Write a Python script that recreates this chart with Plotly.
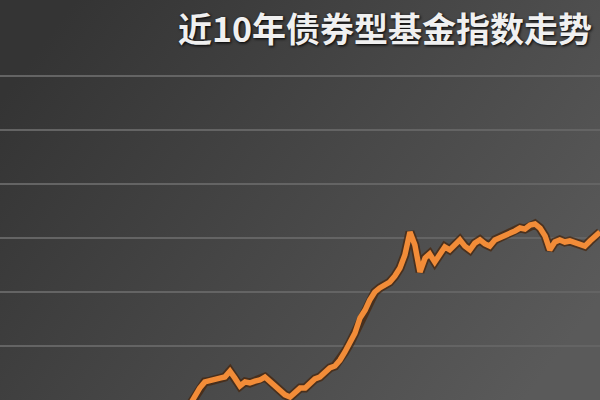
import base64
import pandas as pd
import plotly.graph_objects as go

# ---- data ----
title_text = "近10年债券型基金指数走势"
start_month = "2015-03-01"
index_values = [
    98.1, 101.5, 104.4, 106.7, 107.0, 107.4, 108.1, 108.5, 110.7, 108.1,
    105.2, 106.7, 106.3, 107.0, 107.4, 108.5, 107.0, 105.2, 103.7, 101.9,
    101.1, 103.0, 104.4, 104.4, 106.3, 107.8, 108.5, 110.4, 111.9, 112.6,
    114.8, 117.8, 121.1, 124.8, 130.4, 133.3, 137.0, 140.0, 141.5, 142.6,
    143.7, 145.9, 148.9, 153.7, 162.2, 157.4, 147.4, 152.6, 154.1, 151.1,
    153.7, 156.7, 155.6, 157.4, 159.3, 157.0, 155.6, 158.1, 159.3, 157.8,
    157.0, 159.3, 160.0, 160.7, 161.9, 162.6, 163.7, 163.3, 164.8, 165.2,
    163.7, 160.7, 155.6, 158.5, 159.3, 158.5, 158.9, 158.1, 157.8, 157.0,
    158.9, 160.7, 162.2,
]
grid_values = [120, 140, 160, 180, 200, 220]
x_range = ["2012-01-01", "2022-01-01"]
y_range = [100, 248.15]

dates = pd.date_range(start=start_month, periods=len(index_values), freq="MS")

# background gradient as an inline SVG image
svg = (
    '<svg xmlns="http://www.w3.org/2000/svg" width="600" height="400">'
    '<defs><linearGradient id="g" x1="0" y1="0.25" x2="1" y2="0.75">'
    '<stop offset="0" stop-color="#343434"/>'
    '<stop offset="1" stop-color="#5a5a5a"/>'
    '</linearGradient></defs>'
    '<rect width="600" height="400" fill="url(#g)"/></svg>'
)
svg_uri = "data:image/svg+xml;base64," + base64.b64encode(svg.encode()).decode()

fig = go.Figure()
# dark halo under the line
fig.add_trace(go.Scatter(
    x=dates, y=index_values, mode="lines",
    line=dict(color="rgba(70,35,10,0.7)", width=9),
    hoverinfo="skip", showlegend=False,
))
fig.add_trace(go.Scatter(
    x=dates, y=index_values, mode="lines",
    line=dict(color="#f28c38", width=5.5),
    showlegend=False,
))

fig.update_layout(
    width=600, height=400,
    margin=dict(l=0, r=0, t=0, b=0),
    paper_bgcolor="#3a3a3a",
    plot_bgcolor="rgba(0,0,0,0)",
    images=[dict(source=svg_uri, xref="paper", yref="paper", x=0, y=1,
                 sizex=1, sizey=1, sizing="stretch", layer="below",
                 xanchor="left", yanchor="top")],
    xaxis=dict(range=x_range, showgrid=False, zeroline=False,
               showticklabels=False, showline=False, ticks=""),
    yaxis=dict(range=y_range, tickvals=grid_values, showgrid=True,
               gridcolor="#646464", gridwidth=1.5, zeroline=False,
               showticklabels=False, showline=False, ticks=""),
    annotations=[dict(
        text=title_text, xref="paper", yref="paper",
        x=0.99, y=1 - 27 / 400, xanchor="right", yanchor="middle",
        showarrow=False,
        font=dict(family="Noto Sans CJK SC", size=34, color="#f0f0f0",
                  weight="bold", shadow="1px 1px 3px #000000"),
    )],
)

fig.write_html(
    "out.html",
    config={"displayModeBar": False},
    post_script="document.body.style.margin='0';document.body.style.padding='0';",
)
